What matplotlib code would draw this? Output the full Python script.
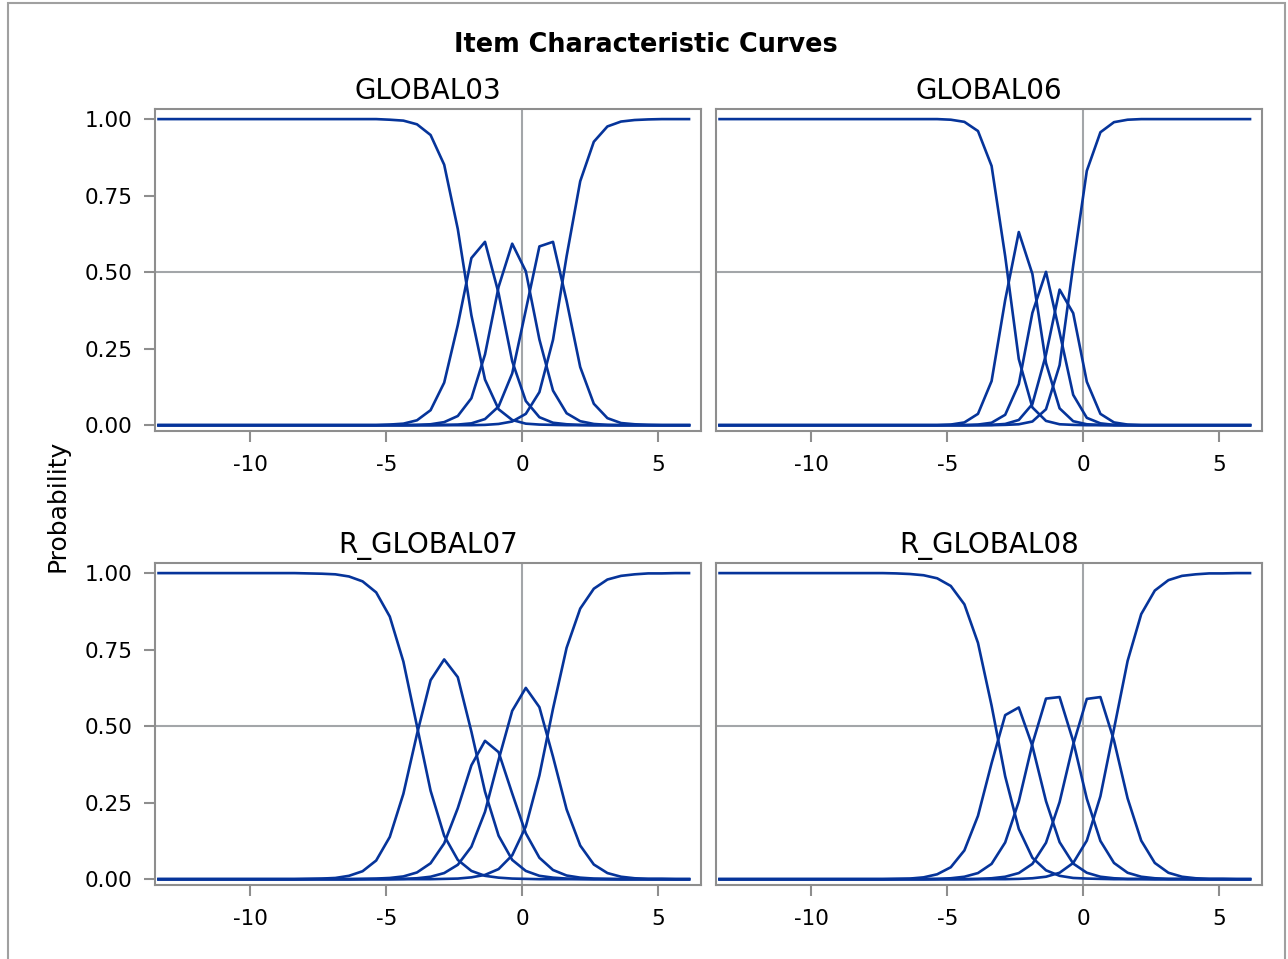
import matplotlib
matplotlib.use('Agg')
import matplotlib.pyplot as plt
from matplotlib.patches import Rectangle

plt.rcParams['font.family'] = 'DejaVu Sans'
plt.rcParams['axes.unicode_minus'] = False

# theta grid (latent trait) used for all items
theta = [-13.37, -12.87, -12.37, -11.87, -11.37, -10.87, -10.37, -9.87, -9.37, -8.87,
         -8.37, -7.87, -7.37, -6.87, -6.37, -5.87, -5.37, -4.87, -4.37, -3.87,
         -3.37, -2.87, -2.37, -1.87, -1.37, -0.87, -0.37, 0.13, 0.63, 1.13,
         1.63, 2.13, 2.63, 3.13, 3.63, 4.13, 4.63, 5.13, 5.63, 6.13]

items = ['GLOBAL03', 'GLOBAL06', 'R_GLOBAL07', 'R_GLOBAL08']

# GLOBAL03 category probabilities
g03_c1 = [1, 1, 1, 1, 1, 1, 1, 1, 1, 1, 1, 1, 1, 1, 1, 1, 1, .998, .995, .983,
          .948, .851, .641, .359, .149, .052, .017, .005, .002, .001, 0, 0, 0, 0, 0, 0, 0, 0, 0, 0]
g03_c2 = [0, 0, 0, 0, 0, 0, 0, 0, 0, 0, 0, 0, 0, 0, 0, 0, 0, .002, .005, .016,
          .049, .139, .327, .546, .599, .431, .209, .079, .026, .008, .003, .001, 0, 0, 0, 0, 0, 0, 0, 0]
g03_c3 = [0, 0, 0, 0, 0, 0, 0, 0, 0, 0, 0, 0, 0, 0, 0, 0, 0, 0, 0, .001,
          .003, .010, .030, .088, .231, .452, .593, .503, .280, .113, .039, .013, .004, .001, 0, 0, 0, 0, 0, 0]
g03_c4 = [0, 0, 0, 0, 0, 0, 0, 0, 0, 0, 0, 0, 0, 0, 0, 0, 0, 0, 0, 0,
          0, .001, .002, .006, .020, .061, .169, .376, .584, .599, .406, .190, .070, .023, .007, .003, .001, 0, 0, 0]
g03_c5 = [0, 0, 0, 0, 0, 0, 0, 0, 0, 0, 0, 0, 0, 0, 0, 0, 0, 0, 0, 0,
          0, 0, 0, 0, .001, .004, .012, .037, .108, .279, .552, .797, .926, .976, .992, .997, .999, 1, 1, 1]

# GLOBAL06
g06_c1 = [1, 1, 1, 1, 1, 1, 1, 1, 1, 1, 1, 1, 1, 1, 1, 1, 1, .998, .991, .961,
          .847, .552, .216, .058, .014, .003, .001, 0, 0, 0, 0, 0, 0, 0, 0, 0, 0, 0, 0, 0]
g06_c2 = [0, 0, 0, 0, 0, 0, 0, 0, 0, 0, 0, 0, 0, 0, 0, 0, 0, .002, .009, .037,
          .144, .409, .631, .494, .203, .055, .013, .003, .001, 0, 0, 0, 0, 0, 0, 0, 0, 0, 0, 0]
g06_c3 = [0, 0, 0, 0, 0, 0, 0, 0, 0, 0, 0, 0, 0, 0, 0, 0, 0, 0, 0, .002,
          .008, .034, .134, .367, .501, .303, .099, .024, .006, .001, 0, 0, 0, 0, 0, 0, 0, 0, 0, 0]
g06_c4 = [0, 0, 0, 0, 0, 0, 0, 0, 0, 0, 0, 0, 0, 0, 0, 0, 0, 0, 0, 0,
          .001, .004, .017, .069, .231, .443, .366, .142, .037, .009, .002, 0, 0, 0, 0, 0, 0, 0, 0, 0]
g06_c5 = [0, 0, 0, 0, 0, 0, 0, 0, 0, 0, 0, 0, 0, 0, 0, 0, 0, 0, 0, 0,
          0, .001, .003, .012, .052, .196, .522, .831, .957, .990, .998, 1, 1, 1, 1, 1, 1, 1, 1, 1]

# R_GLOBAL07
g07_c1 = [1, 1, 1, 1, 1, 1, 1, 1, 1, 1, 1, .999, .998, .996, .989, .973, .937, .858, .711, .500,
          .289, .142, .063, .027, .011, .005, .002, .001, 0, 0, 0, 0, 0, 0, 0, 0, 0, 0, 0, 0]
g07_c2 = [0, 0, 0, 0, 0, 0, 0, 0, 0, 0, 0, .001, .002, .004, .011, .026, .061, .138, .279, .474,
          .650, .718, .660, .482, .286, .142, .063, .027, .011, .005, .002, .001, 0, 0, 0, 0, 0, 0, 0, 0]
g07_c3 = [0, 0, 0, 0, 0, 0, 0, 0, 0, 0, 0, 0, 0, 0, 0, .001, .002, .004, .009, .022,
          .052, .117, .232, .372, .452, .415, .280, .150, .070, .030, .012, .005, .002, .001, 0, 0, 0, 0, 0, 0]
g07_c4 = [0, 0, 0, 0, 0, 0, 0, 0, 0, 0, 0, 0, 0, 0, 0, 0, 0, 0, .001, .003,
          .008, .020, .047, .106, .220, .390, .550, .625, .562, .400, .228, .110, .048, .020, .008, .003, .001, .001, 0, 0]
g07_c5 = [0, 0, 0, 0, 0, 0, 0, 0, 0, 0, 0, 0, 0, 0, 0, 0, 0, 0, 0, 0,
          0, .001, .002, .006, .014, .033, .078, .172, .339, .557, .756, .884, .949, .979, .991, .996, .999, .999, 1, 1]

# R_GLOBAL08
g08_c1 = [1, 1, 1, 1, 1, 1, 1, 1, 1, 1, 1, 1, 1, .999, .997, .993, .983, .958, .898, .772,
          .567, .336, .164, .070, .029, .011, .004, .002, .001, 0, 0, 0, 0, 0, 0, 0, 0, 0, 0, 0]
g08_c2 = [0, 0, 0, 0, 0, 0, 0, 0, 0, 0, 0, 0, 0, .001, .002, .006, .016, .039, .094, .207,
          .379, .536, .561, .435, .255, .121, .051, .021, .008, .003, .001, .001, 0, 0, 0, 0, 0, 0, 0, 0]
g08_c3 = [0, 0, 0, 0, 0, 0, 0, 0, 0, 0, 0, 0, 0, 0, 0, 0, .001, .003, .008, .020,
          .050, .120, .254, .442, .590, .595, .451, .263, .125, .053, .021, .008, .003, .001, .001, 0, 0, 0, 0, 0]
g08_c4 = [0, 0, 0, 0, 0, 0, 0, 0, 0, 0, 0, 0, 0, 0, 0, 0, 0, 0, 0, .001,
          .003, .008, .020, .050, .119, .252, .440, .589, .595, .453, .264, .126, .053, .021, .008, .003, .001, .001, 0, 0]
g08_c5 = [0, 0, 0, 0, 0, 0, 0, 0, 0, 0, 0, 0, 0, 0, 0, 0, 0, 0, 0, 0,
          0, 0, .001, .003, .008, .021, .053, .126, .271, .491, .713, .866, .943, .977, .991, .996, .999, .999, 1, 1]

curves = {
    'GLOBAL03': [g03_c1, g03_c2, g03_c3, g03_c4, g03_c5],
    'GLOBAL06': [g06_c1, g06_c2, g06_c3, g06_c4, g06_c5],
    'R_GLOBAL07': [g07_c1, g07_c2, g07_c3, g07_c4, g07_c5],
    'R_GLOBAL08': [g08_c1, g08_c2, g08_c3, g08_c4, g08_c5],
}

yticks = [0, 0.25, 0.5, 0.75, 1.0]
xticks = [-10, -5, 0, 5]

line_col = '#06349a'
frame_col = '#8e8e8e'
ref_col = '#a3a6a9'

W, H = 1288, 959
fig = plt.figure(figsize=(W / 100, H / 100), dpi=100)

# panel boxes in pixels: left, top
boxes = [(155, 109), (716, 109), (155, 563), (716, 563)]
aw, ah = 546, 322

for i, name in enumerate(items):
    left, top = boxes[i]
    ax = fig.add_axes([left / W, 1 - (top + ah) / H, aw / W, ah / H])
    ax.axvline(0, color=ref_col, lw=1.5, zorder=1)
    ax.axhline(0.5, color=ref_col, lw=1.5, zorder=1)
    for cat in curves[name]:
        ax.plot(theta, cat, color=line_col, lw=1.9, zorder=3)
    ax.set_xlim(-13.5, 6.57)
    ax.set_ylim(-0.019, 1.033)
    ax.set_xticks(xticks)
    ax.set_xticklabels([str(t) for t in xticks])
    ax.set_title(name, fontsize=20, pad=7)
    for s in ax.spines.values():
        s.set_color(frame_col)
        s.set_linewidth(1.5)
    ax.tick_params(axis='x', length=8, width=1.5, color=frame_col, pad=9, labelsize=15.5)
    if i % 2 == 0:
        ax.set_yticks(yticks)
        ax.set_yticklabels(['%.2f' % v for v in yticks])
        ax.tick_params(axis='y', length=8, width=1.5, color=frame_col, pad=8, labelsize=15.5)
    else:
        ax.set_yticks([])

fig.text(646 / W, 1 - 52 / H, 'Item Characteristic Curves', ha='center', va='baseline',
         fontsize=18.4, fontweight='bold')
fig.text(58 / W, 1 - 506 / H, 'Probability', rotation=90, ha='center', va='center', fontsize=18)

fig.add_artist(Rectangle((8 / W, -0.01), (1285 - 8) / W, 1 - 3 / H + 0.01,
                         transform=fig.transFigure, fill=False, ec='#a0a0a0', lw=1.5))

fig.savefig('out.png', dpi=100)
